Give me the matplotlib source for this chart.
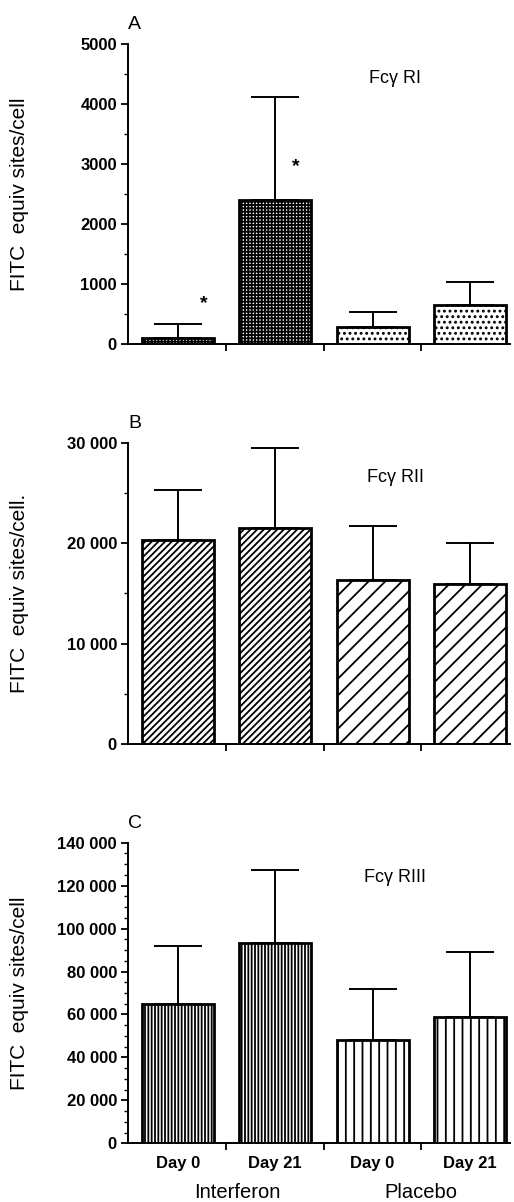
import matplotlib
matplotlib.use("Agg")
import matplotlib.pyplot as plt
from matplotlib.ticker import MultipleLocator, FixedLocator
import numpy as np

plt.rcParams['font.family'] = ['Liberation Sans', 'DejaVu Sans']
plt.rcParams['hatch.linewidth'] = 1.3

# ---- data ----
categories = ["Day 0", "Day 21", "Day 0", "Day 21"]
groups = ["Interferon", "Placebo"]

fc1_mean = [100, 2400, 290, 650]
fc1_upper = [335, 4110, 535, 1030]

fc2_mean = [20300, 21500, 16300, 15950]
fc2_upper = [25300, 29500, 21700, 20050]

fc3_mean = [64700, 93100, 48000, 58800]
fc3_upper = [92000, 127500, 71900, 88900]

titles = ["Fc\u03b3 RI", "Fc\u03b3 RII", "Fc\u03b3 RIII"]
letters = ["A", "B", "C"]
ylabels = ["FITC  equiv sites/cell", "FITC  equiv sites/cell.", "FITC  equiv sites/cell"]

yticks1 = [0, 1000, 2000, 3000, 4000, 5000]
yticks2 = [0, 10000, 20000, 30000]
yticks3 = [0, 20000, 40000, 60000, 80000, 100000, 120000, 140000]

def fmt(v):
    if v >= 10000:
        return f"{v:,}".replace(",", " ")
    return str(v)

W, H = 514, 1202
fig = plt.figure(figsize=(W / 100, H / 100), dpi=100)

panels = [
    dict(mean=fc1_mean, upper=fc1_upper, ticks=yticks1, minor=500,
         hatches=['+++++', '+++++', '...', '...'], top=44, bottom=344.3, fmt=str),
    dict(mean=fc2_mean, upper=fc2_upper, ticks=yticks2, minor=5000,
         hatches=['/////', '/////', '//', '//'], top=442.7, bottom=744, fmt=fmt),
    dict(mean=fc3_mean, upper=fc3_upper, ticks=yticks3, minor=5000,
         hatches=['|||||', '|||||', '||', '||'], top=842.7, bottom=1143.3, fmt=fmt),
]

left_px, right_px = 128, 510
x = np.arange(len(categories))
axes = []
for i, p in enumerate(panels):
    ax = fig.add_axes([left_px / W, 1 - p['bottom'] / H,
                       (right_px - left_px) / W, (p['bottom'] - p['top']) / H])
    axes.append(ax)
    mean = np.array(p['mean'])
    upper = np.array(p['upper'])
    ax.errorbar(x, mean, yerr=[np.zeros_like(mean), upper - mean], fmt='none',
                ecolor='black', elinewidth=1.4, capsize=17, capthick=1.4, zorder=1)
    for xi, m, h in zip(x, mean, p['hatches']):
        ax.bar(xi, m, width=0.74, color='white', edgecolor='black',
               linewidth=2.0, hatch=h, zorder=2)
    ax.set_xlim(-0.51, 3.41)
    ax.set_ylim(0, p['ticks'][-1])
    ax.set_yticks(p['ticks'])
    ax.set_yticklabels([p['fmt'](t) for t in p['ticks']], fontsize=12, fontweight='bold')
    ax.yaxis.set_minor_locator(MultipleLocator(p['minor']))
    ax.spines['top'].set_visible(False)
    ax.spines['right'].set_visible(False)
    ax.spines['left'].set_linewidth(1.4)
    ax.spines['bottom'].set_linewidth(1.4)
    ax.tick_params(axis='y', which='major', direction='out', length=5, width=1.3, pad=3)
    ax.tick_params(axis='y', which='minor', direction='out', length=3, width=1.0)
    ax.set_xticks(x)
    ax.tick_params(axis='x', which='major', length=0, pad=9)
    ax.xaxis.set_minor_locator(FixedLocator([0.5, 1.5, 2.5]))
    ax.tick_params(axis='x', which='minor', direction='out', length=5, width=1.3)
    if i == 2:
        ax.set_xticklabels(categories, fontsize=12, fontweight='bold')
    else:
        ax.set_xticklabels([])
    ax.text(0.0, 1.035, letters[i], transform=ax.transAxes, fontsize=14,
            ha='left', va='bottom')
    ax.text(0.70, 0.885, titles[i], transform=ax.transAxes, fontsize=13,
            ha='center', va='center')
    yc = 1 - (p['top'] + p['bottom']) / 2 / H
    fig.text(20 / W, yc, ylabels[i], rotation=90, fontsize=15,
             ha='center', va='center')

# asterisks in panel A
axes[0].text(0.27, 672, '*', fontsize=14, ha='center', va='center', fontweight='bold')
axes[0].text(1.21, 2955, '*', fontsize=14, ha='center', va='center', fontweight='bold')

# group labels under panel C
axes[2].text(0.61, -0.165, groups[0], transform=axes[2].get_xaxis_transform(),
             fontsize=14.5, ha='center', va='center')
axes[2].text(2.5, -0.165, groups[1], transform=axes[2].get_xaxis_transform(),
             fontsize=14.5, ha='center', va='center')

fig.savefig("out.png", dpi=100)
